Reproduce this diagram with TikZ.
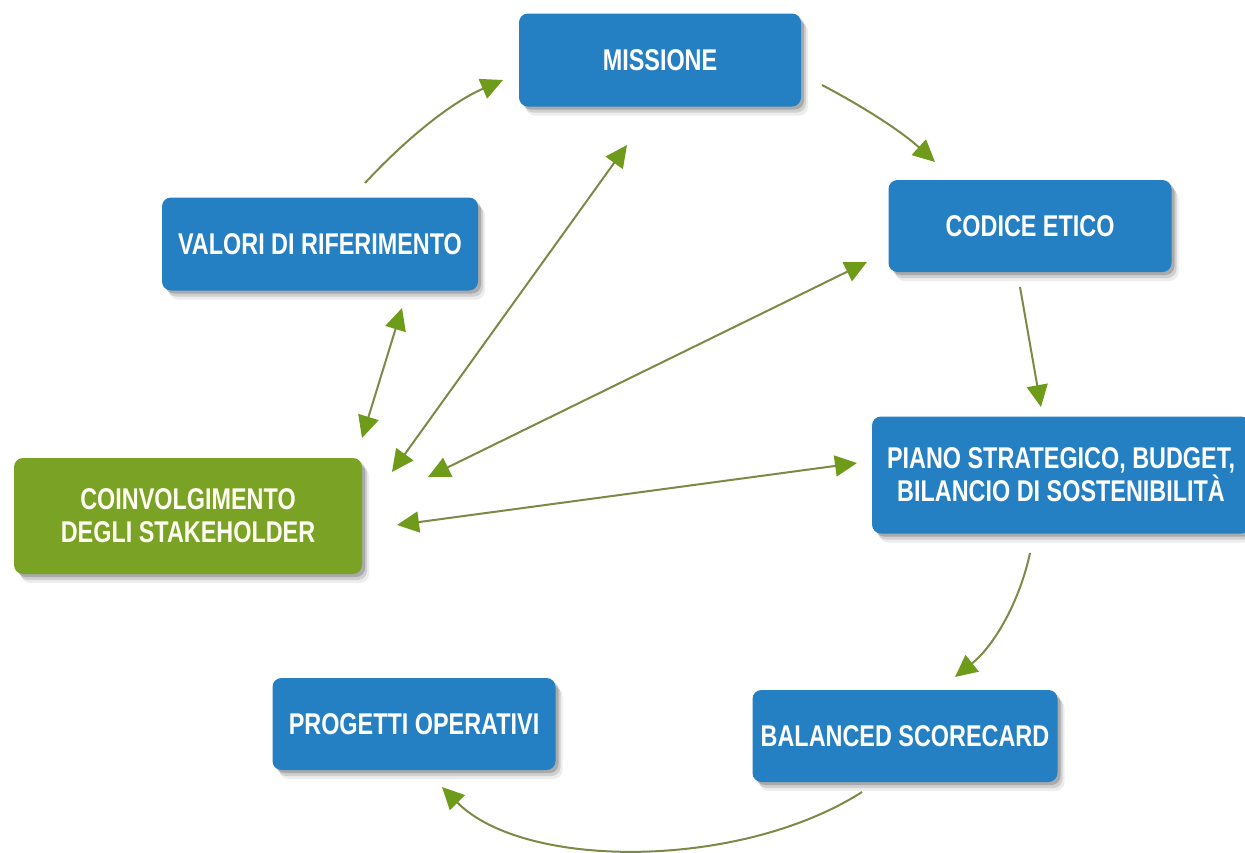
\documentclass[tikz,border=0pt]{standalone}
\usepackage{fontspec}
\newfontfamily\bfont{Liberation Sans}[FakeStretch=0.78]
\usetikzlibrary{arrows.meta,shadows}
\definecolor{boxblue}{HTML}{2580C3}
\definecolor{boxgreen}{HTML}{7AA326}
\definecolor{linecol}{HTML}{7C8A48}
\definecolor{headcol}{HTML}{6F9B1A}
\begin{document}
\begin{tikzpicture}[x=1pt,y=-1pt,
  >={Triangle[length=22pt,width=21pt,color=headcol]},
  softshadow/.style={
    general shadow={shadow xshift=3pt,shadow yshift=-3pt,opacity=.18,fill=black},
    general shadow={shadow xshift=5pt,shadow yshift=-6pt,opacity=.12,fill=black},
    general shadow={shadow xshift=7pt,shadow yshift=-9pt,opacity=.07,fill=black}},
  card/.style={softshadow,rounded corners=9pt,fill=boxblue,text=white,
    font=\bfont\bfseries\fontsize{30}{33}\selectfont,align=center,inner sep=0pt},
  gcard/.style={card,fill=boxgreen,text=white!95!yellow},
  flow/.style={draw=linecol,line width=2pt}]
\useasboundingbox[fill=white] (0,0) rectangle (1245,852);

\node[card,minimum width=282pt,minimum height=93pt] (missione) at (660,60) {MISSIONE};
\node[card,minimum width=283pt,minimum height=92pt] (codice) at (1030,226) {CODICE ETICO};
\node[card,minimum width=316pt,minimum height=93pt] (valori) at (320,244) {VALORI DI RIFERIMENTO};
\node[card,minimum width=378pt,minimum height=117pt] (piano) at (1061,475) {PIANO STRATEGICO, BUDGET,\\BILANCIO DI SOSTENIBILITÀ};
\node[gcard,minimum width=348pt,minimum height=116pt] (coinv) at (188,516) {COINVOLGIMENTO\\DEGLI STAKEHOLDER};
\node[card,minimum width=283pt,minimum height=92pt] (progetti) at (414,724) {PROGETTI OPERATIVI};
\node[card,minimum width=305pt,minimum height=92pt] (balanced) at (905,736) {BALANCED SCORECARD};

% cycle connector ends
\coordinate (v-out) at (365,183);
\coordinate (m-in) at (503,80);
\coordinate (m-out) at (822,85);
\coordinate (c-in) at (935,162);
\coordinate (c-out) at (1020,287);
\coordinate (p-in) at (1041,407);
\coordinate (p-out) at (1030,553);
\coordinate (b-in) at (955,677);
\coordinate (b-out) at (862,792);
\coordinate (g-in) at (442,787);
% stakeholder connector ends
\coordinate (v-s) at (402,308);
\coordinate (s-v) at (362,438);
\coordinate (m-s) at (627,145);
\coordinate (s-m) at (392,472);
\coordinate (c-s) at (867,262);
\coordinate (s-c) at (428,477);
\coordinate (p-s) at (857,463);
\coordinate (s-p) at (397,525);

\draw[flow,->] (v-out) .. controls (405,140) and (450,103) .. (m-in);
\draw[flow,->] (m-out) .. controls (860,105) and (900,130) .. (c-in);
\draw[flow,->] (c-out) -- (p-in);
\draw[flow,->] (p-out) .. controls (1020,600) and (995,645) .. (b-in);
\draw[flow,->] (b-out) .. controls (740,870) and (524,870) .. (g-in);

\draw[flow,<->] (v-s) -- (s-v);
\draw[flow,<->] (m-s) -- (s-m);
\draw[flow,<->] (c-s) -- (s-c);
\draw[flow,<->] (p-s) -- (s-p);
\end{tikzpicture}
\end{document}
